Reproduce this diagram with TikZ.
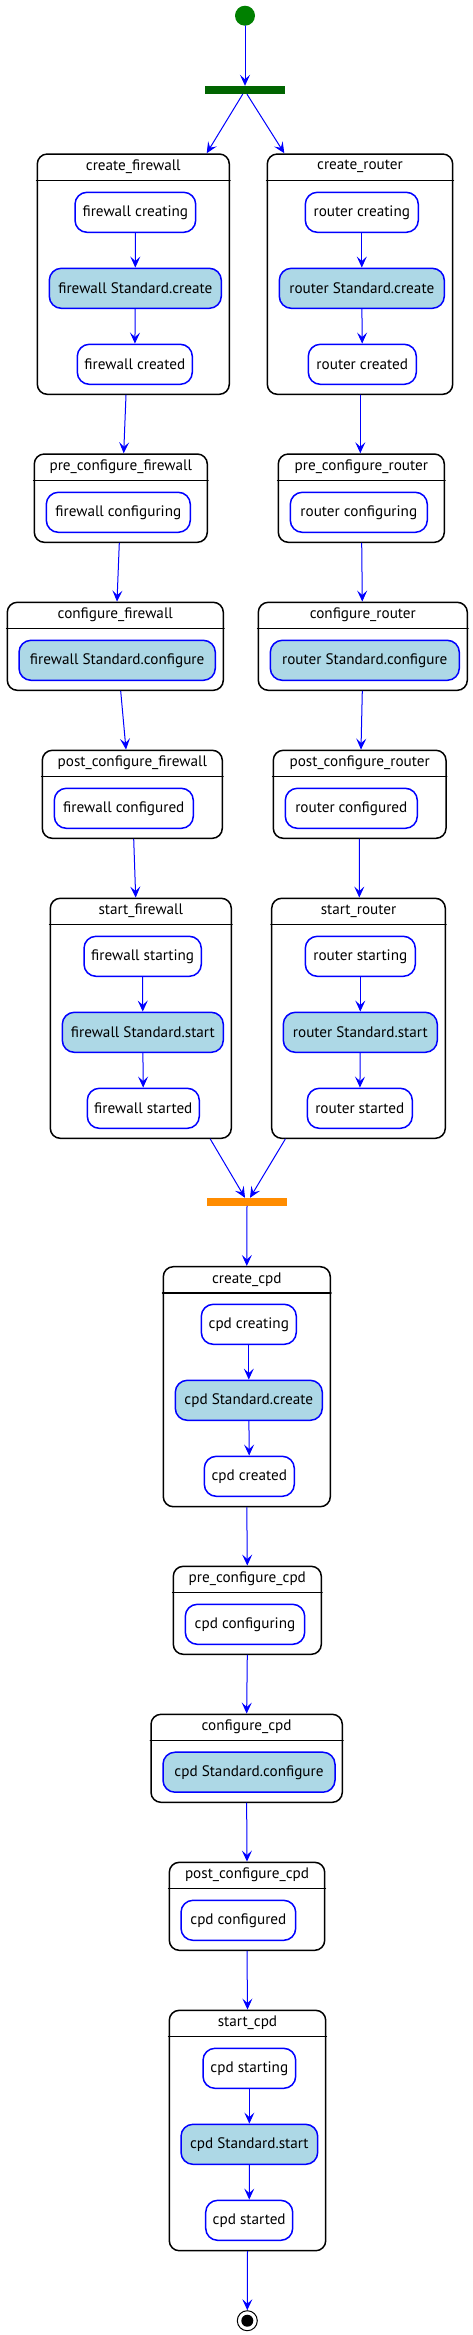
\documentclass[tikz,border=0pt]{standalone}
\usepackage{fontspec}
\setmainfont{PT Sans}
\usetikzlibrary{arrows.meta}
\definecolor{startgreen}{RGB}{0,128,0}
\definecolor{forkgreen}{RGB}{0,100,0}
\definecolor{joinorange}{RGB}{255,140,0}
\definecolor{actblue}{RGB}{173,216,230}
\begin{document}
\begin{tikzpicture}[x=1pt,y=-1pt,line cap=round,line join=round,
  txt/.style={font=\fontsize{15.2}{18}\selectfont,text=black},
  outer/.style={draw=black,line width=1.5pt,fill=white,rounded corners=10pt,inner sep=0pt},
  title/.style={txt,anchor=north,minimum height=26.7pt,inner sep=0pt},
  sep/.style={draw=black,line width=1.5pt},
  act/.style={txt,draw=blue,line width=1.5pt,fill=white,rounded corners=12pt,minimum height=40pt,inner sep=0pt},
  stdact/.style={act,fill=actblue},
  flow/.style={draw=blue,line width=1pt,-{Stealth[length=11pt,width=10pt,inset=4.5pt]}},
  bar/.style={rectangle,inner sep=0pt,minimum width=80pt,minimum height=8pt}]
\path[use as bounding box,fill=white] (0,0) rectangle (473,2335);
% Pseudo states: start, fork, join, stop.
\node[circle,fill=startgreen,minimum size=20pt,inner sep=0pt] (start) at (245,15.7) {};
\node[bar,fill=forkgreen] (fork) at (245,90) {};
\node[bar,fill=joinorange] (join) at (247,1202) {};
\node[circle,draw=black,line width=1pt,fill=white,minimum size=20pt,inner sep=0pt] (stop) at (247.3,2320.7) {};
\node[circle,fill=black,minimum size=12pt,inner sep=0pt] (stop-dot) at (stop) {};
% Column firewall.
% State create_firewall: composite of three activities.
\node[outer,minimum width=192pt,minimum height=240.3pt] (cfw) at (133.3,274.15) {};
\node[title] (cfw-t) at (cfw.north) {create\_firewall};
\draw[sep] (cfw-t.south -| cfw.west) -- (cfw-t.south -| cfw.east);
\node[act,minimum width=120.7pt] (fw1) at (135.35,212.3) {firewall creating};
\node[stdact,minimum width=172pt] (fw2) at (135.3,288.3) {firewall Standard.create};
\node[act,minimum width=115pt] (fw3) at (134.8,364.3) {firewall created};
% State pre_configure_firewall.
\node[outer,minimum width=173pt,minimum height=88.3pt] (pcfw) at (120.8,498.15) {};
\node[title] (pcfw-t) at (pcfw.north) {pre\_configure\_firewall};
\draw[sep] (pcfw-t.south -| pcfw.west) -- (pcfw-t.south -| pcfw.east);
\node[act,minimum width=144pt] (fw4) at (118.3,512.3) {firewall configuring};
% State configure_firewall.
\node[outer,minimum width=216pt,minimum height=88pt] (confw) at (115.3,646.3) {};
\node[title] (confw-t) at (confw.north) {configure\_firewall};
\draw[sep] (confw-t.south -| confw.west) -- (confw-t.south -| confw.east);
\node[stdact,minimum width=196.3pt] (fw5) at (117.15,660.3) {firewall Standard.configure};
% State post_configure_firewall.
\node[outer,minimum width=180pt,minimum height=88pt] (postfw) at (132.3,794.3) {};
\node[title] (postfw-t) at (postfw.north) {post\_configure\_firewall};
\draw[sep] (postfw-t.south -| postfw.west) -- (postfw-t.south -| postfw.east);
\node[act,minimum width=139pt] (fw6) at (123.8,808.3) {firewall configured};
% State start_firewall: composite of three activities.
\node[outer,minimum width=181pt,minimum height=240pt] (startfw) at (140.8,1018.3) {};
\node[title] (startfw-t) at (startfw.north) {start\_firewall};
\draw[sep] (startfw-t.south -| startfw.west) -- (startfw-t.south -| startfw.east);
\node[act,minimum width=117.3pt] (fw7) at (142.65,956.3) {firewall starting};
\node[stdact,minimum width=161pt] (fw8) at (142.8,1032.3) {firewall Standard.start};
\node[act,minimum width=112pt] (fw9) at (143.3,1108.3) {firewall started};
% Column router.
% State create_router: composite of three activities.
\node[outer,minimum width=185.4pt,minimum height=240.3pt] (crt) at (360,274.15) {};
\node[title] (crt-t) at (crt.north) {create\_router};
\draw[sep] (crt-t.south -| crt.west) -- (crt-t.south -| crt.east);
\node[act,minimum width=113pt] (rt1) at (361.8,212.3) {router creating};
\node[stdact,minimum width=165pt] (rt2) at (361.8,288.3) {router Standard.create};
\node[act,minimum width=108pt] (rt3) at (362.3,364.3) {router created};
% State pre_configure_router.
\node[outer,minimum width=166pt,minimum height=88.3pt] (pcrt) at (361.3,498.15) {};
\node[title] (pcrt-t) at (pcrt.north) {pre\_configure\_router};
\draw[sep] (pcrt-t.south -| pcrt.west) -- (pcrt-t.south -| pcrt.east);
\node[act,minimum width=137pt] (rt4) at (358.8,512.3) {router configuring};
% State configure_router.
\node[outer,minimum width=209pt,minimum height=88pt] (confrt) at (362.8,646.3) {};
\node[title] (confrt-t) at (confrt.north) {configure\_router};
\draw[sep] (confrt-t.south -| confrt.west) -- (confrt-t.south -| confrt.east);
\node[stdact,minimum width=189pt] (rt5) at (364.8,660.3) {router Standard.configure};
% State post_configure_router.
\node[outer,minimum width=172.7pt,minimum height=88pt] (postrt) at (359.65,794.3) {};
\node[title] (postrt-t) at (postrt.north) {post\_configure\_router};
\draw[sep] (postrt-t.south -| postrt.west) -- (postrt-t.south -| postrt.east);
\node[act,minimum width=132pt] (rt6) at (351.3,808.3) {router configured};
% State start_router: composite of three activities.
\node[outer,minimum width=173.6pt,minimum height=240pt] (startrt) at (358.5,1018.3) {};
\node[title] (startrt-t) at (startrt.north) {start\_router};
\draw[sep] (startrt-t.south -| startrt.west) -- (startrt-t.south -| startrt.east);
\node[act,minimum width=110pt] (rt7) at (360.3,956.3) {router starting};
\node[stdact,minimum width=154pt] (rt8) at (360.3,1032.3) {router Standard.start};
\node[act,minimum width=105pt] (rt9) at (359.8,1108.3) {router started};
% Column cpd.
% State create_cpd: composite of three activities.
\node[outer,minimum width=167pt,minimum height=240pt] (ccpd) at (246.8,1386.7) {};
\node[title] (ccpd-t) at (ccpd.north) {create\_cpd};
\draw[sep] (ccpd-t.south -| ccpd.west) -- (ccpd-t.south -| ccpd.east);
\node[act,minimum width=95pt] (cpd1) at (248.8,1324.3) {cpd creating};
\node[stdact,minimum width=147pt] (cpd2) at (248.8,1400.3) {cpd Standard.create};
\node[act,minimum width=90pt] (cpd3) at (249.3,1476.3) {cpd created};
% State pre_configure_cpd.
\node[outer,minimum width=148pt,minimum height=88pt] (pccpd) at (247.3,1610.3) {};
\node[title] (pccpd-t) at (pccpd.north) {pre\_configure\_cpd};
\draw[sep] (pccpd-t.south -| pccpd.west) -- (pccpd-t.south -| pccpd.east);
\node[act,minimum width=119.4pt] (cpd4) at (245,1624.3) {cpd configuring};
% State configure_cpd.
\node[outer,minimum width=191.3pt,minimum height=88pt] (confcpd) at (246.65,1758.3) {};
\node[title] (confcpd-t) at (confcpd.north) {configure\_cpd};
\draw[sep] (confcpd-t.south -| confcpd.west) -- (confcpd-t.south -| confcpd.east);
\node[stdact,minimum width=172pt] (cpd5) at (249,1772.2) {cpd Standard.configure};
% State post_configure_cpd.
\node[outer,minimum width=155.4pt,minimum height=88pt] (postcpd) at (247,1906.3) {};
\node[title] (postcpd-t) at (postcpd.north) {post\_configure\_cpd};
\draw[sep] (postcpd-t.south -| postcpd.west) -- (postcpd-t.south -| postcpd.east);
\node[act,minimum width=114.7pt] (cpd6) at (238.35,1920.3) {cpd configured};
% State start_cpd: composite of three activities.
\node[outer,minimum width=156.4pt,minimum height=240.4pt] (startcpd) at (247.5,2130.5) {};
\node[title] (startcpd-t) at (startcpd.north) {start\_cpd};
\draw[sep] (startcpd-t.south -| startcpd.west) -- (startcpd-t.south -| startcpd.east);
\node[act,minimum width=92.7pt] (cpd7) at (249.35,2068.3) {cpd starting};
\node[stdact,minimum width=136.7pt] (cpd8) at (249.35,2144.3) {cpd Standard.start};
\node[act,minimum width=87pt] (cpd9) at (249.2,2220.3) {cpd started};
% Edges inside composite states.
\foreach \a/\b in {fw1/fw2,fw2/fw3,fw7/fw8,fw8/fw9,rt1/rt2,rt2/rt3,rt7/rt8,rt8/rt9,cpd1/cpd2,cpd2/cpd3,cpd7/cpd8,cpd8/cpd9}
  \draw[flow] (\a) -- (\b);
% Edges start--fork--create.
\draw[flow] (start) -- (fork.north);
\draw[flow] ([xshift=-2.3pt]fork.south) -- ([xshift=73.4pt]cfw.north);
\draw[flow] ([xshift=2pt]fork.south) -- ([xshift=-75.7pt]crt.north);
% Edges along firewall.
\draw[flow] ([xshift=-7.3pt]cfw.south) -- ([xshift=2.9pt]pcfw.north);
\draw[flow] ([xshift=-1.5pt]pcfw.south) -- ([xshift=1.7pt]confw.north);
\draw[flow] ([xshift=5.4pt]confw.south) -- ([xshift=-6.3pt]postfw.north);
\draw[flow] ([xshift=1.4pt]postfw.south) -- ([xshift=-5.1pt]startfw.north);
% Edges along router.
\draw[flow] ([xshift=0.3pt]crt.south) -- ([xshift=-1pt]pcrt.north);
\draw[flow] ([xshift=0.4pt]pcrt.south) -- ([xshift=-0.5pt]confrt.north);
\draw[flow] ([xshift=-0.5pt]confrt.south) -- ([xshift=1.35pt]postrt.north);
\draw[flow] ([xshift=-0.35pt]postrt.south) -- ([xshift=0.8pt]startrt.north);
% Edges start--join.
\draw[flow] ([xshift=69.5pt]startfw.south) -- ([xshift=-2pt]join.north);
\draw[flow] ([xshift=-73.2pt]startrt.south) -- ([xshift=3pt]join.north);
% Edges along cpd.
\draw[flow] (join.south) -- (ccpd.north);
\draw[flow] (ccpd.south) -- (pccpd.north);
\draw[flow] (pccpd.south) -- (confcpd.north);
\draw[flow] (confcpd.south) -- (postcpd.north);
\draw[flow] (postcpd.south) -- (startcpd.north);
\draw[flow] (startcpd.south) -- (stop.north);
\end{tikzpicture}
\end{document}
